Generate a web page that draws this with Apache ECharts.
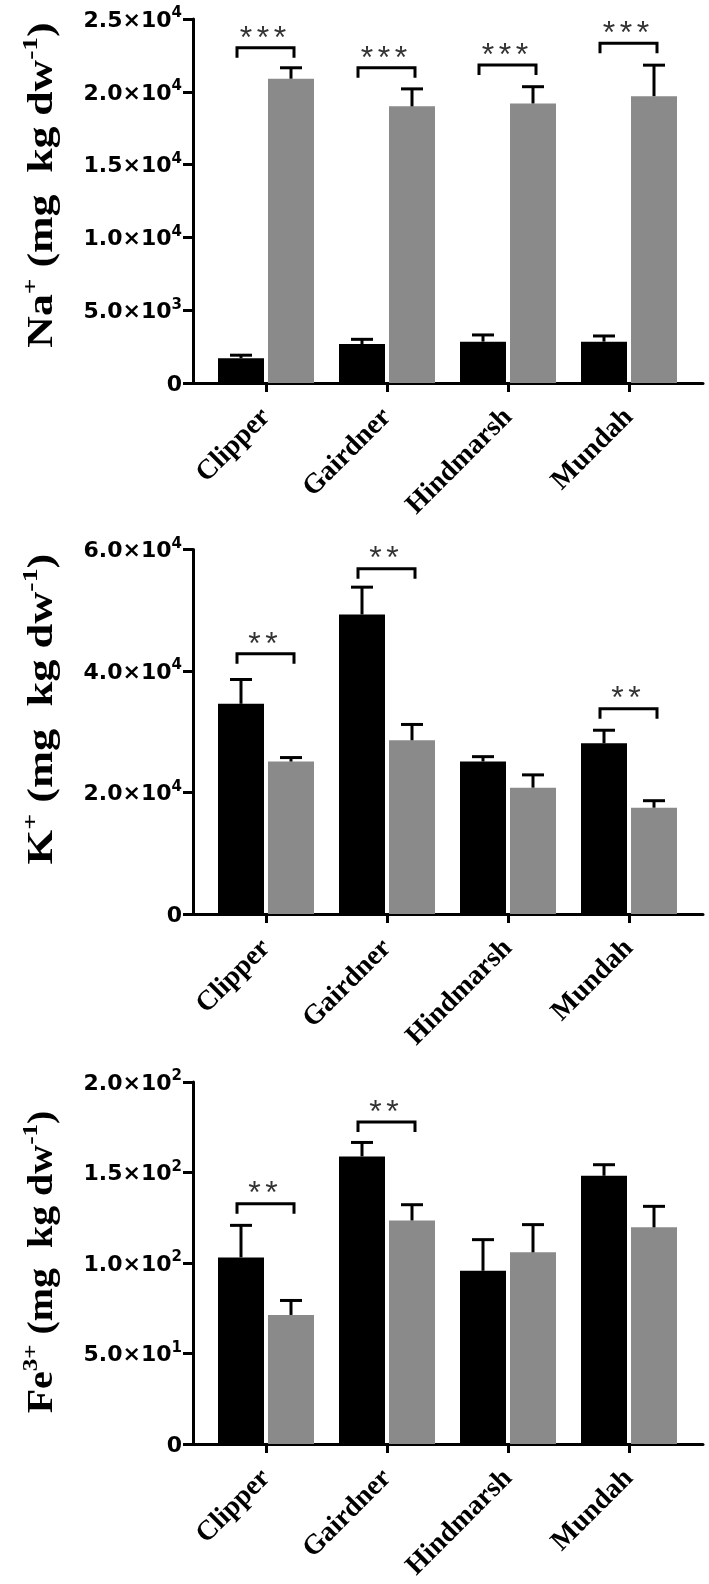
<!DOCTYPE html>
<html>
<head>
<meta charset="utf-8">
<script src="https://cdn.jsdelivr.net/npm/echarts@6/dist/echarts.min.js"></script>
<style>
  html, body { margin: 0; padding: 0; background: #fff; }
  #chart { width: 709px; height: 1584px; }
</style>
</head>
<body>
<div id="chart"></div>
<script>
// categories
const categories = ['Clipper', 'Gairdner', 'Hindmarsh', 'Mundah'];

// Na+ panel
const naBlack = [1700, 2680, 2840, 2840];
const naBlackErr = [210, 320, 460, 390];
const naGray = [20900, 19000, 19200, 19700];
const naGrayErr = [750, 1200, 1150, 2130];
const naSig = [[0, 23030, '***'], [1, 21650, '***'], [2, 21840, '***'], [3, 23330, '***']];
const naTicks = ['0', '5.0×10^3', '1.0×10^4', '1.5×10^4', '2.0×10^4', '2.5×10^4'];

// K+ panel
const kBlack = [34600, 49300, 25100, 28100];
const kBlackErr = [4000, 4500, 800, 2150];
const kGray = [25100, 28600, 20800, 17500];
const kGrayErr = [650, 2600, 2100, 1150];
const kSig = [[0, 42850, '**'], [1, 56850, '**'], [3, 33800, '**']];
const kTicks = ['0', '2.0×10^4', '4.0×10^4', '6.0×10^4'];

// Fe3+ panel
const feBlack = [103.1, 158.9, 95.7, 148.2];
const feBlackErr = [17.7, 7.7, 17.2, 6.1];
const feGray = [71.3, 123.5, 105.9, 119.7];
const feGrayErr = [8, 8.7, 15.3, 11.6];
const feSig = [[0, 132.8, '**'], [1, 177.9, '**']];
const feTicks = ['0', '5.0×10^1', '1.0×10^2', '1.5×10^2', '2.0×10^2'];

const BAR_W = 46;
const BAR_GAP = 4;
const HALF = (BAR_W + BAR_GAP) / 2;

const panels = [
  { top: 19, height: 364, max: 25000, interval: 5000, ticks: naTicks,
    black: naBlack, blackErr: naBlackErr, gray: naGray, grayErr: naGrayErr, sig: naSig,
    title: '{n|Na}{u|+}{n| (mg  kg dw}{u|-1}{n|)}', titleY: 185, titleScale: 1.25 },
  { top: 549.5, height: 364.5, max: 60000, interval: 20000, ticks: kTicks,
    black: kBlack, blackErr: kBlackErr, gray: kGray, grayErr: kGrayErr, sig: kSig,
    title: '{n|K}{u|+}{n| (mg  kg dw}{u|-1}{n|)}', titleY: 709, titleScale: 1.27 },
  { top: 1082, height: 362, max: 200, interval: 50, ticks: feTicks,
    black: feBlack, blackErr: feBlackErr, gray: feGray, grayErr: feGrayErr, sig: feSig,
    title: '{n|Fe}{u|3+}{n| (mg  kg dw}{u|-1}{n|)}', titleY: 1262, titleScale: 1.14 }
];

function tickRich(s) {
  const parts = s.split('^');
  return parts.length > 1 ? '{m|' + parts[0] + '}{s|' + parts[1] + '}' : '{m|' + s + '}';
}

function errRender(offset) {
  return function (params, api) {
    const c = api.value(0), v = api.value(1), e = api.value(2);
    const p0 = api.coord([c, v]);
    const p1 = api.coord([c, v + e]);
    const x = p0[0] + offset;
    return {
      type: 'group',
      children: [
        { type: 'line', shape: { x1: x, y1: p0[1], x2: x, y2: p1[1] }, style: { stroke: '#000', lineWidth: 3 } },
        { type: 'line', shape: { x1: x - 11, y1: p1[1], x2: x + 11, y2: p1[1] }, style: { stroke: '#000', lineWidth: 3 } }
      ]
    };
  };
}

function sigRender(sig) {
  return function (params, api) {
    const c = api.value(0), lvl = api.value(1);
    const n = sig[params.dataIndex][2].length;
    const p = api.coord([c, lvl]);
    const x = p[0], y = p[1];
    const children = [
      { type: 'polyline', shape: { points: [[x - 29, y + 10], [x - 29, y], [x + 28, y], [x + 28, y + 10]] },
        style: { stroke: '#000', lineWidth: 3, fill: null } }
    ];
    for (let k = 0; k < n; k++) {
      children.push({ type: 'text', x: x - 3 + (k - (n - 1) / 2) * 17, y: y - 9,
        style: { text: '*', fill: '#333', font: '32px "Liberation Sans"', align: 'center', verticalAlign: 'middle' } });
    }
    return { type: 'group', children: children };
  };
}

const grid = [], xAxis = [], yAxis = [], series = [], graphic = [];

panels.forEach(function (p, i) {
  const a = 2 * i, b = 2 * i + 1;
  grid.push({ left: 193, right: 6, top: p.top, height: p.height });
  grid.push({ left: 205.5, width: 484, top: p.top, height: p.height });

  xAxis.push({ type: 'value', gridIndex: a, min: 0, max: 1,
    axisLine: { show: true, onZero: false, lineStyle: { color: '#000', width: 3 } },
    axisTick: { show: false }, axisLabel: { show: false }, splitLine: { show: false } });
  xAxis.push({ type: 'category', gridIndex: b, data: categories,
    axisLine: { show: false },
    axisTick: { show: true, alignWithLabel: true, length: 9, lineStyle: { color: '#000', width: 3 } },
    axisLabel: { rotate: 45, margin: 30, color: '#000', fontFamily: 'Liberation Serif', fontWeight: 'bold', fontSize: 28 } });

  yAxis.push({ type: 'value', gridIndex: a, min: 0, max: p.max, interval: p.interval,
    axisLine: { show: true, lineStyle: { color: '#000', width: 3 } },
    axisTick: { show: true, length: 10, lineStyle: { color: '#000', width: 3 } },
    splitLine: { show: false },
    axisLabel: {
      margin: 11,
      formatter: function (v) { return tickRich(p.ticks[Math.round(v / p.interval)]); },
      rich: {
        m: { fontFamily: 'DejaVu Sans', fontWeight: 'bold', fontSize: 22, color: '#000', verticalAlign: 'bottom', lineHeight: 26 },
        s: { fontFamily: 'DejaVu Sans', fontWeight: 'bold', fontSize: 15, color: '#000', verticalAlign: 'top', lineHeight: 15 }
      }
    } });
  yAxis.push({ type: 'value', gridIndex: b, min: 0, max: p.max, interval: p.interval, show: false });

  series.push({ type: 'bar', xAxisIndex: b, yAxisIndex: b, data: p.black, barWidth: BAR_W, barGap: (BAR_GAP / BAR_W * 100) + '%',
    itemStyle: { color: '#000' } });
  series.push({ type: 'bar', xAxisIndex: b, yAxisIndex: b, data: p.gray, barWidth: BAR_W,
    itemStyle: { color: '#8a8a8a' } });
  series.push({ type: 'custom', xAxisIndex: b, yAxisIndex: b, z: 5, clip: false,
    data: p.black.map(function (v, j) { return [j, v, p.blackErr[j]]; }), renderItem: errRender(-HALF) });
  series.push({ type: 'custom', xAxisIndex: b, yAxisIndex: b, z: 5, clip: false,
    data: p.gray.map(function (v, j) { return [j, v, p.grayErr[j]]; }), renderItem: errRender(HALF) });
  series.push({ type: 'custom', xAxisIndex: b, yAxisIndex: b, z: 6, clip: false,
    data: p.sig.map(function (s) { return [s[0], s[1]]; }), renderItem: sigRender(p.sig) });

  graphic.push({ type: 'text', x: 40, y: p.titleY, rotation: Math.PI / 2, scaleX: p.titleScale,
    style: { text: p.title, align: 'center', verticalAlign: 'middle',
      rich: {
        n: { fontFamily: 'Liberation Serif', fontWeight: 'bold', fontSize: 35, fill: '#000', verticalAlign: 'bottom', lineHeight: 40 },
        u: { fontFamily: 'Liberation Serif', fontWeight: 'bold', fontSize: 22, fill: '#000', verticalAlign: 'top', lineHeight: 22 }
      } } });
});

const chart = echarts.init(document.getElementById('chart'), null, { renderer: 'canvas' });
chart.setOption({ animation: false, grid: grid, xAxis: xAxis, yAxis: yAxis, series: series, graphic: graphic });
</script>
</body>
</html>
